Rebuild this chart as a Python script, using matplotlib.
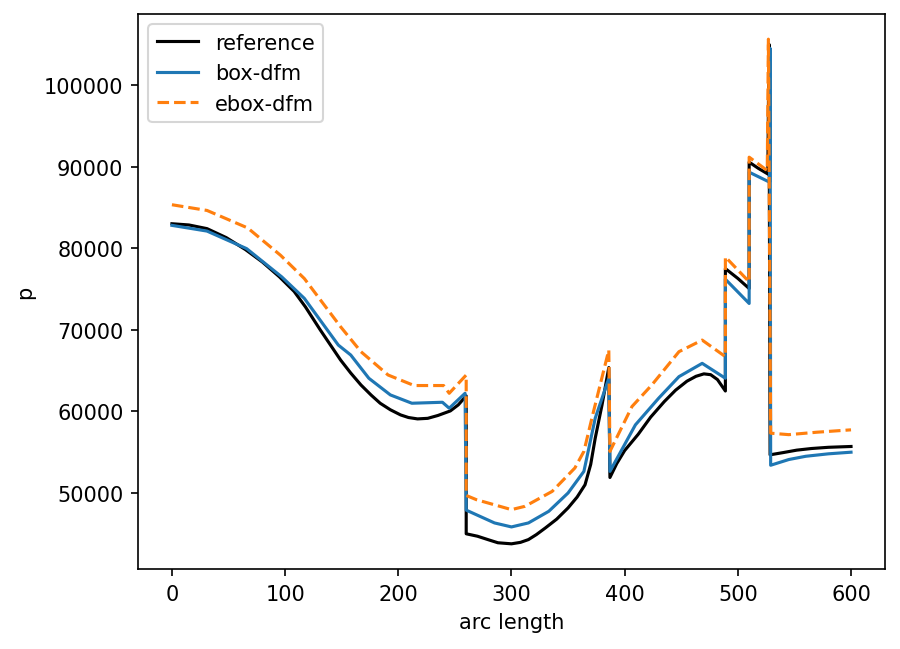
import matplotlib
matplotlib.use('Agg')
import matplotlib.pyplot as plt

# reference solution (dense, smooth pieces with jumps)
ref_s = [0, 15, 31, 48, 65, 80, 95, 108, 118, 131, 149, 158, 167, 176, 184, 193,
         202, 209, 217, 226, 235, 246, 253, 260,
         260, 265, 270, 280, 288, 300, 308, 315, 322, 330, 340, 350, 358, 365,
         370, 374, 380, 386,
         387, 393, 400, 412, 423, 435, 445, 455, 463, 470, 476, 482, 489,
         489, 500, 510,
         510, 518, 526.5, 527.5,
         528.5, 540, 552, 565, 580, 600]
ref_p = [83000, 82850, 82400, 81300, 79830, 78300, 76490, 74700, 72800, 70000,
         66300, 64700, 63240, 62000, 61000, 60200,
         59570, 59250, 59080, 59150, 59500, 60060, 60800, 61900,
         45000, 44850, 44700, 44250, 43900, 43770, 43950, 44290, 44900, 45720,
         46800, 48170, 49500, 51010,
         53500, 56720, 60790, 65370,
         51900, 53600, 55200, 57200, 59300, 61200, 62600, 63700, 64300, 64600,
         64500, 63900, 62500,
         77500, 76300, 75060,
         90550, 89800, 89100, 105000,
         54680, 54950, 55250, 55450, 55600, 55700]

# box-dfm
box_s = [0, 31, 66, 97, 117, 147, 158, 174, 193, 212, 239, 245, 259,
         260, 285, 300, 315, 333, 350, 364, 374, 386,
         387, 409.5, 430, 448, 468.5, 489,
         489, 510,
         510, 528, 528.5,
         529, 545, 560, 580, 600]
box_p = [82800, 82100, 79950, 76490, 73850, 68130, 66910, 64060, 62020, 61000,
         61120, 60390, 62220,
         47900, 46330, 45840, 46330, 47760, 50000, 52650, 59170, 64060,
         52650, 58350, 61610, 64260, 65890, 64060,
         76200, 73230,
         89320, 88100, 104500,
         53400, 54100, 54500, 54800, 55000]

# ebox-dfm
ebox_s = [0, 31, 67, 96, 117, 149, 167, 191, 214, 240, 245, 260,
          260, 269, 300, 312, 336, 356, 364, 372.5, 386,
          387, 406.5, 424, 448, 468.5, 489,
          489, 510,
          510, 526, 527,
          529, 545, 570, 600]
ebox_p = [85330, 84630, 82480, 79130, 76280, 70380, 67320, 64460, 63170, 63170,
          62220, 64460,
          49700, 49180, 47960, 48370, 50200, 53060, 55100, 59990, 67520,
          55100, 60600, 63240, 67320, 68740, 66710,
          78930, 75880,
          91160, 89520, 105620,
          57330, 57150, 57450, 57740]

fig = plt.figure(figsize=(6.0, 4.3333), dpi=150)
ax = fig.add_subplot(111)
fig.subplots_adjust(left=0.1533, right=0.9833, top=0.977, bottom=0.123)

ax.plot(ref_s, ref_p, color='black', label='reference')
ax.plot(box_s, box_p, color='C0', label='box-dfm')
ax.plot(ebox_s, ebox_p, color='C1', linestyle='--', label='ebox-dfm')

ax.set_xlabel('arc length')
ax.set_ylabel('p')
ax.legend(loc='upper left')

fig.savefig('out.png', dpi=150)
